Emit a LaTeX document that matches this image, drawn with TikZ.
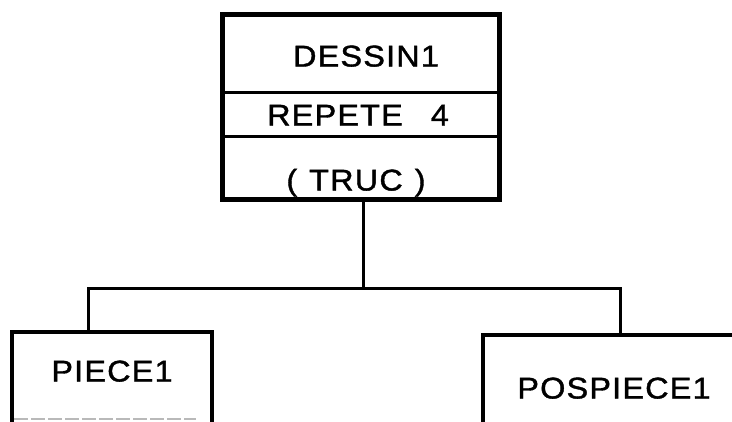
\documentclass[tikz,border=0pt]{standalone}
\usepackage{fontspec}
\setmainfont{Liberation Sans}[LetterSpace=4, FakeStretch=1.08, FakeBold=1.3]
\begin{document}
\begin{tikzpicture}[x=1pt,y=-1pt,
  cell/.style={rectangle, draw, line width=3pt, inner sep=0pt, minimum width=275pt},
  lbl/.style={inner sep=0pt, font=\fontsize{30}{32}\selectfont, text height=21pt, text depth=0pt},
  wire/.style={line width=3pt, line cap=round},
  open/.style={line width=4pt, line join=miter}]
\clip (0,0) rectangle (732,421);
\fill[white] (0,0) rectangle (732,421);
% top box
\node[cell, minimum height=77pt] (dessin) at (360.5,53.5) {};
\node[cell, minimum height=44pt] (repete) at (360.5,114) {};
\node[cell, minimum height=62pt] (truc) at (360.5,167) {};
\draw[line width=4pt] (dessin.north west) rectangle (truc.south east);
\node[lbl] (t1) at (366,56) {DESSIN1};
\node[lbl] (t2) at (358,115) {REPETE\hspace{28pt}4};
\node[lbl] (t3) at (356,180) {(\hspace{12pt}TRUC\hspace{12pt})};
% bottom boxes (open at the picture edge)
\node[rectangle, inner sep=0pt, minimum width=200pt, minimum height=110pt] (piece) at (112,387) {};
\draw[open] (piece.south west) -- (piece.north west) -- (piece.north east) -- (piece.south east);
\node[lbl] (t4) at (112,371) {PIECE1};
\draw[gray!55, line width=1.2pt, dash pattern=on 14pt off 3pt] (14,419) -- (196,419);
\node[rectangle, inner sep=0pt, minimum width=300pt, minimum height=110pt] (pos) at (633,390) {};
\draw[open] (pos.south west) -- (pos.north west) -- (pos.north east);
\node[lbl] (t5) at (614,388) {POSPIECE1};
% connectors
\coordinate (j) at (363,288);
\coordinate (jl) at (88,288);
\coordinate (jr) at (620,288);
\draw[wire] (truc.south -| j) -- (j);
\draw[wire] (jl |- piece.north) -- (jl) -- (jr) -- (jr |- pos.north);
\end{tikzpicture}
\end{document}
